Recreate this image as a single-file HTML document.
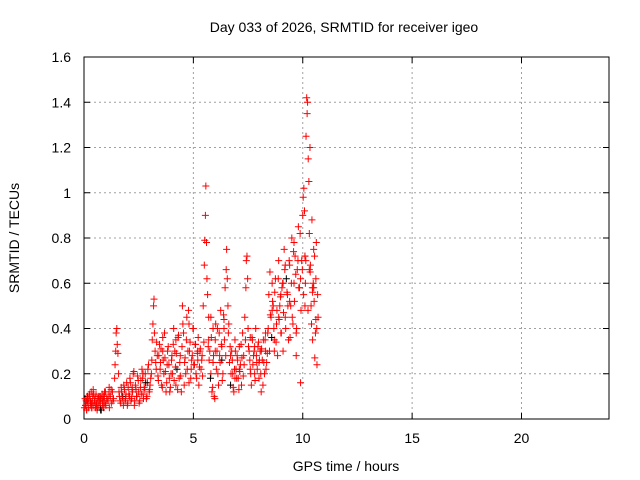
<!DOCTYPE html>
<html><head><meta charset="utf-8"><style>
body{margin:0;background:#fff}
svg{display:block;font-family:"Liberation Sans",sans-serif;font-size:14px}
</style></head><body>
<svg id="chart" width="640" height="480" xmlns="http://www.w3.org/2000/svg">
<rect width="640" height="480" fill="#fff"/>
<text x="344" y="32" text-anchor="middle">Day 033 of 2026, SRMTID for receiver igeo</text>
<text x="346" y="471" text-anchor="middle">GPS time / hours</text>
<text transform="translate(19,238) rotate(-90)" text-anchor="middle">SRMTID / TECUs</text>
<g id="grid"></g>
<g id="axes"></g>
<g id="points"></g>
</svg>
<script>
const xTicks=[0,5,10,15,20];
const yTicks=[0,0.2,0.4,0.6,0.8,1,1.2,1.4,1.6];
const yTickLabels=["0","0.2","0.4","0.6","0.8","1","1.2","1.4","1.6"];
const hours=[
0.02,0.05,0.08,0.1,0.12,0.15,0.18,0.2,0.22,0.25,0.28,0.3,0.33,0.35,0.38,0.4,0.42,0.45,0.48,0.5,0.53,0.55,0.58,0.6,0.63,0.65,0.68,0.7,0.73,0.75,0.78,0.8,0.83,0.85,0.88,0.9,0.93,0.95,0.98,1.0,1.05,1.1,1.15,1.2,1.25,1.3,1.35,
1.4,1.42,1.45,1.47,1.5,1.52,1.55,1.58,1.6,1.65,1.7,1.75,1.8,1.85,1.9,1.95,2.0,2.05,2.1,2.15,2.2,2.25,2.3,2.35,2.4,2.45,2.5,2.55,2.6,2.65,2.7,2.75,2.8,2.85,2.9,2.95,3.0,3.05,
3.1,3.12,3.15,3.18,3.2,3.22,3.25,3.3,3.35,3.4,3.45,3.5,3.55,3.6,3.65,3.7,3.75,3.8,3.85,3.9,3.95,4.0,4.05,4.1,4.15,4.2,4.25,4.3,4.35,4.4,4.45,4.5,4.55,4.6,4.65,4.7,4.75,4.8,4.85,4.9,4.95,5.0,5.05,5.1,5.15,5.2,5.25,5.3,5.35,
5.4,5.45,5.5,5.52,5.55,5.57,5.6,5.62,5.65,5.7,5.75,5.8,5.85,5.9,5.95,6.0,6.05,6.1,6.15,6.2,6.25,6.3,6.35,6.4,6.45,6.5,6.52,6.55,6.6,6.65,6.7,6.75,6.8,6.85,6.9,6.95,7.0,7.05,7.1,7.15,7.2,7.25,7.3,7.35,
7.4,7.42,7.45,7.48,7.5,7.55,7.6,7.65,7.7,7.75,7.8,7.85,7.9,7.95,8.0,8.05,8.1,8.15,8.2,8.25,8.3,8.35,8.4,8.45,8.5,8.55,8.6,8.65,8.7,8.75,8.8,8.85,8.9,8.95,9.0,9.05,9.1,9.15,9.2,9.25,9.3,9.35,9.4,9.45,9.5,9.55,9.6,9.65,9.7,9.75,9.8,9.85,9.9,9.95,
10.0,10.02,10.05,10.08,10.1,10.12,10.15,10.18,10.2,10.22,10.25,10.28,10.3,10.33,10.35,10.38,10.4,10.42,10.45,10.48,10.5,10.52,10.55,10.58,10.6,10.62,10.65,10.7,
0.3,0.6,0.9,2.2,2.7,3.6,4.2,4.8,5.2,5.9,6.3,6.9,7.6,8.1,8.6,9.1,9.6,10.1,10.45,
8.9,9.0,9.2,9.4,9.7,9.9,10.1,10.3,10.5,10.6,
5.7,5.8,6.0,6.4,6.7,7.1,7.8,8.0,8.3,8.7,
1.62,1.68,1.72,1.78,1.82,1.88,1.92,1.98,2.02,2.08,2.12,2.18,2.22,2.28,2.32,2.38,2.42,2.48,2.52,2.58,2.62,2.68,2.72,2.78,2.82,2.88,2.92,2.98,
3.02,3.08,3.28,3.32,3.38,3.42,3.48,3.52,3.58,3.62,3.68,3.72,3.78,3.82,3.88,3.92,3.98,4.02,4.08,4.12,4.18,4.22,4.28,4.32,4.38,4.42,4.48,4.52,4.58,4.62,4.68,4.72,4.78,4.82,4.88,4.92,4.98,5.02,5.08,5.12,5.18,5.22,5.28,5.32,5.38,5.42,5.48,
5.68,5.72,5.78,5.82,5.88,5.92,5.98,6.02,6.08,6.12,6.18,6.22,6.28,6.32,6.38,6.42,6.48,6.58,6.62,6.68,6.72,6.78,6.82,6.88,6.92,6.98,7.02,7.08,7.12,7.18,7.22,7.28,7.32,7.38,
7.52,7.58,7.62,7.68,7.72,7.78,7.82,7.88,7.92,7.98,8.02,8.08,8.12,8.18,8.22,8.28,8.32,8.38,8.42,8.48,8.52,8.58,8.62,8.68,8.72,8.78,8.82,8.88,8.92,8.98,9.02,9.08,9.12,9.18,9.22,9.28,9.32,9.38,9.42,9.48,9.52,9.58,9.62,9.68,9.72,9.78,9.82,9.88,9.92,9.98,
10.04,10.14,10.24,10.34,10.44,10.54,10.64,10.68,
0.07,0.14,0.24,0.34,0.44,0.54,0.64,0.74,0.84,0.94,1.04,1.14,1.24,0.12,0.36,0.56,0.76,0.96,1.16,1.32
];
const values=[
0.05,0.09,0.06,0.08,0.04,0.1,0.07,0.05,0.09,0.11,0.06,0.08,0.12,0.05,0.07,0.1,0.13,0.06,0.08,0.09,0.05,0.11,0.07,0.04,0.09,0.06,0.1,0.08,0.05,0.07,0.09,0.04,0.11,0.06,0.08,0.05,0.1,0.07,0.12,0.06,0.09,0.08,0.14,0.1,0.07,0.12,0.09,
0.18,0.24,0.3,0.38,0.4,0.33,0.29,0.2,0.12,0.08,0.14,0.1,0.06,0.13,0.09,0.16,0.07,0.11,0.18,0.08,0.13,0.2,0.06,0.15,0.1,0.19,0.12,0.08,0.17,0.22,0.11,0.14,0.2,0.09,0.16,0.24,0.13,0.18,
0.26,0.35,0.42,0.5,0.53,0.38,0.3,0.22,0.28,0.17,0.33,0.25,0.15,0.36,0.2,0.27,0.12,0.24,0.32,0.18,0.14,0.26,0.2,0.4,0.3,0.15,0.22,0.36,0.18,0.28,0.12,0.5,0.38,0.25,0.2,0.45,0.3,0.16,0.34,0.22,0.28,0.4,0.24,0.33,0.18,0.26,0.15,0.3,0.22,
0.28,0.5,0.68,0.79,0.9,1.03,0.78,0.62,0.55,0.45,0.3,0.2,0.12,0.25,0.1,0.35,0.22,0.4,0.15,0.28,0.48,0.32,0.2,0.44,0.58,0.66,0.75,0.62,0.38,0.25,0.15,0.3,0.2,0.12,0.35,0.22,0.28,0.18,0.32,0.24,0.15,0.38,0.28,0.45,
0.58,0.7,0.72,0.62,0.4,0.3,0.22,0.15,0.35,0.28,0.2,0.4,0.25,0.32,0.18,0.3,0.12,0.26,0.35,0.2,0.3,0.25,0.38,0.55,0.65,0.45,0.6,0.5,0.35,0.62,0.42,0.28,0.7,0.5,0.38,0.58,0.3,0.75,0.45,0.62,0.55,0.35,0.68,0.5,0.8,0.42,0.6,0.72,0.28,0.66,0.85,0.58,0.16,0.7,
0.9,0.98,1.02,0.92,0.72,0.6,1.25,1.42,1.35,1.4,1.15,1.05,0.82,1.2,0.68,0.5,0.42,0.88,0.35,0.6,0.75,0.52,0.27,0.38,0.62,0.78,0.24,0.45,
0.07,0.05,0.1,0.14,0.2,0.3,0.35,0.42,0.3,0.4,0.26,0.18,0.36,0.3,0.48,0.6,0.78,0.72,0.56,
0.45,0.55,0.68,0.52,0.38,0.62,0.5,0.66,0.58,0.44,
0.35,0.45,0.3,0.4,0.28,0.22,0.32,0.25,0.38,0.3,
0.1,0.07,0.12,0.09,0.15,0.08,0.11,0.06,0.14,0.1,0.16,0.09,0.12,0.21,0.08,0.13,0.1,0.17,0.07,0.14,0.11,0.18,0.09,0.13,0.16,0.1,0.22,0.12,
0.15,0.2,0.25,0.34,0.19,0.28,0.22,0.31,0.14,0.26,0.38,0.21,0.16,0.3,0.24,0.12,0.2,0.28,0.33,0.17,0.23,0.29,0.13,0.37,0.25,0.19,0.32,0.42,0.15,0.27,0.35,0.22,0.48,0.3,0.18,0.26,0.4,0.24,0.33,0.2,0.29,0.36,0.23,0.31,0.26,0.19,0.34,
0.32,0.26,0.18,0.36,0.14,0.28,0.09,0.42,0.3,0.2,0.38,0.25,0.33,0.17,0.46,0.35,0.28,0.5,0.42,0.32,0.2,0.26,0.14,0.22,0.3,0.18,0.26,0.13,0.21,0.33,0.27,0.19,0.24,0.35,
0.32,0.26,0.2,0.36,0.24,0.3,0.17,0.28,0.22,0.34,0.26,0.2,0.31,0.15,0.25,0.35,0.22,0.29,0.4,0.3,0.46,0.36,0.52,0.4,0.56,0.34,0.48,0.62,0.44,0.54,0.38,0.6,0.47,0.66,0.4,0.56,0.5,0.7,0.36,0.6,0.45,0.74,0.52,0.64,0.4,0.7,0.58,0.82,0.48,0.66,
0.55,0.7,0.48,0.65,0.58,0.72,0.4,0.55,
0.06,0.08,0.1,0.07,0.11,0.06,0.09,0.1,0.08,0.12,0.09,0.11,0.13,0.04,0.05,0.06,0.04,0.07,0.05,0.08
];
const X0=84,X1=609,Y0=419,Y1=57,XMAX=24,YMAX=1.6;
function sx(v){return X0+(X1-X0)*v/XMAX;}
function sy(v){return Y0-(Y0-Y1)*v/YMAX;}
const NS="http://www.w3.org/2000/svg";
function mk(tag,attrs,parent){const e=document.createElementNS(NS,tag);for(const k in attrs)e.setAttribute(k,attrs[k]);parent.appendChild(e);return e;}
const grid=document.getElementById('grid'),axes=document.getElementById('axes'),pts=document.getElementById('points');
xTicks.forEach((t,i)=>{
  const x=sx(t);
  if(t>0){const l=mk('line',{x1:x,x2:x,y1:Y1,y2:Y0,stroke:'#a0a0a0','stroke-dasharray':'2,3'},grid);
  
  }
  mk('line',{x1:x,x2:x,y1:Y0,y2:Y0-6,stroke:'#000'},axes);
  mk('line',{x1:x,x2:x,y1:Y1,y2:Y1+6,stroke:'#000'},axes);
  const tx=mk('text',{x:x,y:443,'text-anchor':'middle'},axes);tx.textContent=String(t);
  
  
});
yTicks.forEach((t,i)=>{
  const y=sy(t);
  if(t>0&&t<YMAX){const l=mk('line',{x1:X0,x2:X1,y1:y,y2:y,stroke:'#a0a0a0','stroke-dasharray':'2,3'},grid);
  
  }
  mk('line',{x1:X0,x2:X0+6,y1:y,y2:y,stroke:'#000'},axes);
  mk('line',{x1:X1,x2:X1-6,y1:y,y2:y,stroke:'#000'},axes);
  const tx=mk('text',{x:71,y:y+5,'text-anchor':'end'},axes);tx.textContent=yTickLabels[i];
  
  
});
mk('rect',{x:X0,y:Y1,width:X1-X0,height:Y0-Y1,fill:'none',stroke:'#000'},axes);
const n=Math.min(hours.length,values.length);
for(let i=0;i<n;i++){
  const x=sx(hours[i]),y=sy(values[i]);
  const p=mk('path',{d:`M${x-3.5},${y}h7M${x},${y-3.5}v7`,stroke:(i%53==5)?'#000':'#f00','stroke-width':1,fill:'none'},pts);
  
  
}
</script>
</body></html>
